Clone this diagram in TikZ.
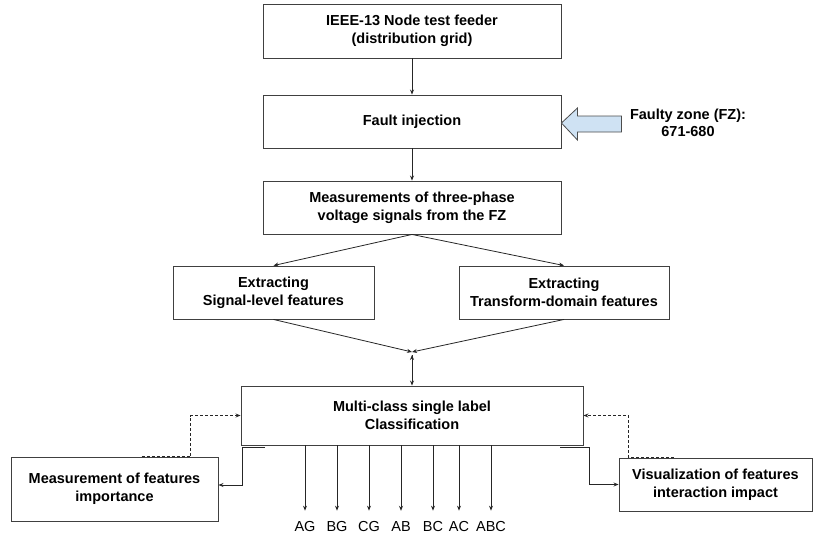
\documentclass[tikz,border=0pt]{standalone}
\usepackage{fontspec}
\setmainfont{Liberation Sans}
\usetikzlibrary{arrows.meta,positioning}
\definecolor{fzblue}{RGB}{207,226,243}

\begin{document}
\begin{tikzpicture}[x=1pt, y=-1pt, >={Stealth[length=5pt, width=4pt]},
box/.style={draw=black!75, line width=0.9pt, align=center,
font=\bfseries\fontsize{14.5}{18}\selectfont},
line/.style={line width=0.8pt, draw=black!85},
dline/.style={line, dash pattern=on 3pt off 2pt},
outlab/.style={inner sep=0pt, font=\fontsize{14.5}{18}\selectfont}]
\useasboundingbox (0,0) rectangle (820,538);
\node [box, minimum width=298, minimum height=54] (s_1) at (412,31) {IEEE-13 Node test feeder\\(distribution grid)};
\node [box, minimum width=298, minimum height=53] (s_2) at (412,121.5) {Fault injection};
\node [box, minimum width=298, minimum height=53] (s_3) at (412,207.5) {Measurements of three-phase\\voltage signals from the FZ};
\node [box, minimum width=201, minimum height=53] (s_4) at (273.5,292.5) {Extracting\\Signal-level features};
\node [box, minimum width=210, minimum height=53] (s_5) at (564,292.5) {Extracting\\Transform-domain features};
\node [box, minimum width=342, minimum height=59] (s_6) at (412,415.5) {Multi-class single label\\Classification};
\node [box, minimum width=207, minimum height=64] (s_7) at (114.5,489) {Measurement of features\\importance};
\node [box, minimum width=193, minimum height=53] (s_8) at (715.5,484.5) {Visualization of features\\interaction impact};
\node [font=\bfseries\fontsize{14.5}{17}\selectfont, align=center] (fz) at (688,123) {Faulty zone (FZ):\\671-680};
% block arrow into the fault box
\draw [draw=black!70, fill=fzblue, line width=0.8pt] (s_2.east |- fz) -- ++(16,-15) -- ++(0,8) -- ++(44,0)
-- ++(0,16) -- ++(-44,0) -- ++(0,8) -- cycle;
\coordinate (j) at (412,352);
\coordinate (j_2) at (412,355);
\path [->, line]
(s_1) edge (s_2)
(s_2) edge (s_3)
(s_3.south) edge (s_4.north)
edge (s_5.north)
(s_4.south) edge (j)
(s_5.south) edge (j)
(j_2) edge (s_6);
\coordinate (l_1) at (265,447);
\coordinate (r_1) at (560,447);
\draw [->, line] (l_1) -- (242,447) |- ([yshift=4pt]s_7.east);
\draw [->, line] (r_1) -- (589,447) |- (s_8.west);
\draw [->, dline] ([xshift=27pt]s_7.north) -- ([xshift=76pt]s_7.north) |- (s_6.west);
\draw [->, dline] ([xshift=-42pt]s_8.north) -- ([xshift=-87pt]s_8.north) |- (s_6.east);
% outputs
\foreach \xx/\lab in {305/AG, 337/BG, 369/CG, 401/AB, 433/BC, 459/AC, 491/ABC}
{
\node [outlab] (o_\lab) at (\xx,527) {\lab};
\draw [->, line] (s_6.south -| o_\lab) -- ([yshift=11pt]o_\lab.north);
}
\end{tikzpicture}
\end{document}
